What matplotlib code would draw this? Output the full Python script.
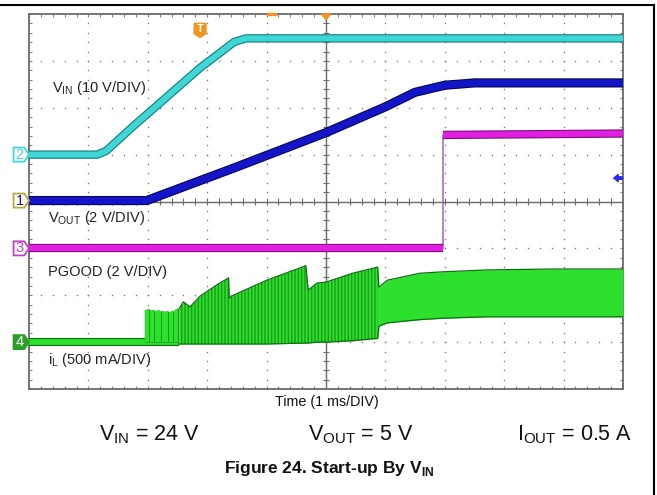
import matplotlib
matplotlib.use("Agg")
import matplotlib.pyplot as plt
import matplotlib.patheffects as pe
from matplotlib.lines import Line2D
from matplotlib.patches import Polygon
from matplotlib.ticker import MultipleLocator
import numpy as np

# ---------------- data (scope divisions: x 0..10, y 0..8) ----------------
vin_x = [0.0, 1.15, 1.30, 1.75, 2.88, 3.45, 3.65, 10.0]
vin_y = [5.00, 5.00, 5.08, 5.60, 6.85, 7.40, 7.48, 7.48]

vout_x = [0.0, 1.98, 2.15, 3.44, 5.00, 6.00, 6.50, 7.00, 7.50, 10.0]
vout_y = [4.02, 4.02, 4.10, 4.71, 5.47, 6.02, 6.33, 6.48, 6.53, 6.53]

pgood_x = [0.0, 6.97, 6.97, 10.0]
pgood_y = [3.00, 3.00, 5.42, 5.45]

il_base_x = [0.0, 2.52]
il_base_y = [1.00, 1.00]

il_spike_x = [1.97, 2.01, 2.05, 2.09, 2.13, 2.17, 2.21, 2.25, 2.29, 2.33, 2.37, 2.41, 2.45, 2.49]
il_spike_top = [1.69, 1.70, 1.68, 1.69, 1.67, 1.68, 1.66, 1.67, 1.65, 1.66, 1.64, 1.66, 1.68, 1.70]

il_env_x = [2.52, 2.60, 2.71, 2.88, 3.16, 3.36, 3.37, 3.44, 4.00, 4.66, 4.70, 4.85, 5.00,
            5.45, 5.87, 5.89, 6.03, 6.58, 6.97, 7.71, 8.82, 10.0]
il_env_hi = [1.70, 1.86, 1.75, 1.98, 2.22, 2.37, 1.94, 2.00, 2.32, 2.63, 2.11, 2.26, 2.28,
             2.47, 2.60, 2.17, 2.32, 2.47, 2.50, 2.54, 2.56, 2.56]
il_env_lo = [0.96, 0.96, 0.96, 0.96, 0.96, 0.96, 0.96, 0.96, 0.96, 0.98, 0.98, 1.00, 1.00,
             1.03, 1.08, 1.34, 1.41, 1.48, 1.51, 1.54, 1.54, 1.54]

channel_ids = ["1", "2", "3", "4"]
channel_refs = [4.02, 5.00, 3.00, 1.00]

# ---------------- style ----------------
C_VIN, C_VIN_E = "#3fd6d6", "#127a7a"
C_VOUT, C_VOUT_E = "#1414c8", "#05055a"
C_PG, C_PG_E = "#e21ee2", "#7a107a"
C_IL, C_IL_E = "#2ee02e", "#0d6e0d"
GRID = "#7a7a7a"

FONT = ['Liberation Sans', 'DejaVu Sans']

fig = plt.figure(figsize=(6.57, 4.95), dpi=100)
W, H = 657.0, 495.0
ax = fig.add_axes([29 / W, 1 - 389 / H, (623 - 29) / W, (389 - 14) / H])
ax.set_xlim(0, 10)
ax.set_ylim(0, 8)

for s in ax.spines.values():
    s.set_color("#6a6a6a")
    s.set_linewidth(1.3)
ax.xaxis.set_major_locator(MultipleLocator(0.2))
ax.yaxis.set_major_locator(MultipleLocator(0.2))
ax.tick_params(which="both", direction="in", length=2.5, width=0.8, color="#808080",
               top=True, right=True, labelbottom=False, labelleft=False)

# dotted graticule
gx = np.arange(0, 10.001, 0.2)
gy = np.arange(0, 8.001, 0.2)
for v in [1, 2, 3, 4, 6, 7, 8, 9]:
    ax.scatter(np.full_like(gy, v), gy, s=1.2, color=GRID, lw=0, zorder=1)
for h in [1, 2, 3, 5, 6, 7]:
    ax.scatter(gx, np.full_like(gx, h), s=1.2, color=GRID, lw=0, zorder=1)
# centre cross with ticks
ax.axvline(5, color="#6a6a6a", lw=1.0, zorder=1)
ax.axhline(4, color="#6a6a6a", lw=1.0, zorder=1)
ax.vlines(gx, 4 - 0.065, 4 + 0.065, color="#6a6a6a", lw=0.8, zorder=1)
ax.hlines(gy, 5 - 0.05, 5 + 0.05, color="#6a6a6a", lw=0.8, zorder=1)

def trace(x, y, color, edge, lw, z):
    ax.plot(x, y, color=color, lw=lw, solid_capstyle="butt", zorder=z,
            path_effects=[pe.Stroke(linewidth=lw + 1.6, foreground=edge), pe.Normal()])

# VIN
trace(vin_x, vin_y, C_VIN, C_VIN_E, 4.4, 5)
# VOUT
trace(vout_x, vout_y, C_VOUT, C_VOUT_E, 5.0, 5)
# PGOOD
ax.plot(pgood_x, pgood_y, color="#a050b0", lw=1.0, zorder=4)
trace(pgood_x[0:2], pgood_y[0:2], C_PG, C_PG_E, 4.4, 5)
trace(pgood_x[2:4], pgood_y[2:4], C_PG, C_PG_E, 4.4, 5)

# iL
trace(il_base_x, il_base_y, C_IL, C_IL_E, 4.2, 5)
ax.vlines(il_spike_x, 1.0, il_spike_top, color=C_IL, lw=1.6, zorder=5,
          path_effects=[pe.Stroke(linewidth=2.4, foreground="#1a8a1a"), pe.Normal()])
ax.fill_between(il_env_x, il_env_lo, il_env_hi, color=C_IL, lw=0, zorder=5)
ax.fill_between(il_env_x[:15], il_env_lo[:15], il_env_hi[:15], facecolor="none",
                edgecolor="#1b9a1b", hatch="|||||", lw=0, zorder=5)
ax.plot(il_env_x, il_env_hi, color=C_IL_E, lw=0.9, zorder=6)
ax.plot(il_env_x, il_env_lo, color=C_IL_E, lw=0.9, zorder=6)

# channel markers
mcol = {"1": ("#b8a83a", "white", "#1a1aa0"), "2": (C_VIN, "white", C_VIN),
        "3": ("#c040c0", "white", "#c040c0"), "4": ("#2aa02a", "#2aa02a", "white")}
for cid, ref in zip(channel_ids, channel_refs):
    ec, fc, tc = mcol[cid]
    poly = Polygon([(-0.26, ref - 0.15), (-0.08, ref - 0.15), (0.0, ref),
                    (-0.08, ref + 0.15), (-0.26, ref + 0.15)], closed=True,
                   facecolor=fc, edgecolor=ec, lw=1.3, clip_on=False, zorder=7)
    ax.add_patch(poly)
    ax.text(-0.155, ref, cid, color=tc, fontsize=10.5, ha="center", va="center",
            family=FONT, clip_on=False, zorder=8)

# trigger markers
ax.add_patch(Polygon([(2.78, 7.80), (2.98, 7.80), (2.98, 7.58), (2.88, 7.50), (2.78, 7.58)],
                     closed=True, facecolor="#f0961e", edgecolor="#f0961e", zorder=8))
ax.text(2.88, 7.67, "T", color="white", fontsize=8, fontweight="bold", ha="center",
        va="center", family=FONT, zorder=9)
ax.add_patch(Polygon([(4.92, 8.0), (5.08, 8.0), (5.0, 7.88)], closed=True,
                     facecolor="#f0961e", edgecolor="#f0961e", clip_on=False, zorder=8))
ax.add_patch(Polygon([(4.0, 8.03), (4.15, 8.03), (4.15, 7.97), (4.0, 7.97)], closed=True,
                     facecolor="#f0961e", edgecolor="#f0961e", clip_on=False, zorder=8))
# blue reference arrow at right edge
ax.add_patch(Polygon([(9.84, 4.5), (9.92, 4.58), (9.92, 4.53), (9.99, 4.53),
                      (9.99, 4.47), (9.92, 4.47), (9.92, 4.42)], closed=True,
                     facecolor="#2a2af0", edgecolor="#2a2af0", lw=0.8, zorder=9))

# channel labels
lab_kw = dict(fontsize=10.5, color="#222222", va="center", ha="left", family=FONT, zorder=9)
ax.text(0.39, 6.42, r"V$_{\mathregular{IN}}$ (10 V/DIV)", **lab_kw)
ax.text(0.32, 3.65, r"V$_{\mathregular{OUT}}$ (2 V/DIV)", **lab_kw)
ax.text(0.32, 2.49, "PGOOD (2 V/DIV)", **lab_kw)
ax.text(0.32, 0.62, r"i$_{\mathregular{L}}$ (500 mA/DIV)", **lab_kw)

# figure texts
fig.text(327 / W, 1 - 402 / H, "Time (1 ms/DIV)", fontsize=10.3, ha="center", va="center",
         family=FONT, color="#111111")
row_kw = dict(fontsize=15.5, ha="center", va="center", family=FONT, color="#111111")
fig.text(149 / W, 1 - 435 / H, r"V$_{\mathregular{IN}}$ = 24 V", **row_kw)
fig.text(361 / W, 1 - 435 / H, r"V$_{\mathregular{OUT}}$ = 5 V", **row_kw)
fig.text(575 / W, 1 - 435 / H, r"I$_{\mathregular{OUT}}$ = 0.5 A", **row_kw)
fig.text(329 / W, 1 - 469 / H, r"Figure 24. Start-up By V$_{\mathregular{IN}}$",
         fontsize=12.5, fontweight="bold", ha="center", va="center", family=FONT,
         color="#111111")

# outer frame lines
fig.add_artist(Line2D([0, 654 / W], [1 - 5 / H, 1 - 5 / H], color="black", lw=1.5))
fig.add_artist(Line2D([654 / W, 654 / W], [0, 1 - 5 / H], color="black", lw=1.5))

fig.savefig("out.png", dpi=100)
